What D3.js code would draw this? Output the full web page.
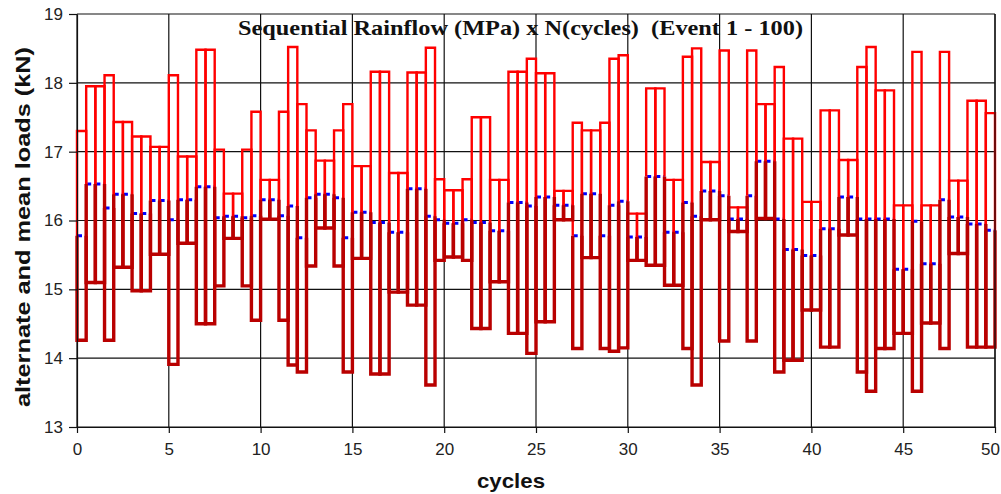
<!DOCTYPE html>
<html>
<head>
<meta charset="utf-8">
<script src="https://cdn.jsdelivr.net/npm/d3@7"></script>
<style>
  html, body { margin: 0; padding: 0; background: #fff; }
  svg { display: block; }
</style>
</head>
<body>
<div id="chart"></div>
<script>
// one entry per event (1 - 100), half a cycle each
const maxLoad = [
  17.30, 17.95, 17.95, 18.11, 17.43, 17.43, 17.22, 17.22, 17.07, 17.07,
  18.11, 16.93, 16.93, 18.48, 18.48, 17.03, 16.39, 16.39, 17.03, 17.58,
  16.59, 16.59, 17.58, 18.52, 17.69, 17.31, 16.87, 16.87, 17.31, 17.69,
  16.79, 16.79, 18.16, 18.16, 16.69, 16.69, 18.15, 18.15, 18.51, 16.60,
  16.44, 16.44, 16.60, 17.50, 17.50, 16.59, 16.59, 18.16, 18.16, 18.35,
  18.14, 18.14, 16.43, 16.43, 17.42, 17.31, 17.31, 17.42, 18.35, 18.40,
  16.10, 16.10, 17.92, 17.92, 16.59, 16.59, 18.38, 18.50, 16.85, 16.85,
  18.47, 16.19, 16.19, 18.47, 17.69, 17.69, 18.23, 17.19, 17.19, 16.27,
  16.27, 17.60, 17.60, 16.88, 16.88, 18.23, 18.52, 17.89, 17.89, 16.22,
  16.22, 18.45, 16.22, 16.22, 18.45, 16.58, 16.58, 17.74, 17.74, 17.56
];
const minLoad = [
  14.26, 15.10, 15.10, 14.26, 15.32, 15.32, 14.98, 14.98, 15.51, 15.51,
  13.91, 15.67, 15.67, 14.50, 14.50, 15.05, 15.74, 15.74, 15.05, 14.55,
  16.02, 16.02, 14.55, 13.90, 13.80, 15.34, 15.89, 15.89, 15.34, 13.80,
  15.45, 15.45, 13.77, 13.77, 14.96, 14.96, 14.77, 14.77, 13.61, 15.42,
  15.47, 15.47, 15.42, 14.43, 14.43, 15.11, 15.11, 14.36, 14.36, 14.07,
  14.53, 14.53, 16.01, 16.01, 14.14, 15.46, 15.46, 14.14, 14.10, 14.15,
  15.42, 15.42, 15.35, 15.35, 15.06, 15.06, 14.14, 13.61, 16.01, 16.01,
  14.25, 15.84, 15.84, 14.25, 16.03, 16.03, 13.80, 13.97, 13.97, 14.70,
  14.70, 14.16, 14.16, 15.79, 15.79, 13.80, 13.52, 14.14, 14.14, 14.36,
  14.36, 13.52, 14.51, 14.51, 14.14, 15.52, 15.52, 14.16, 14.16, 14.16
];
const meanLoad = [
  15.78, 16.53, 16.53, 16.18, 16.38, 16.38, 16.10, 16.10, 16.29, 16.29,
  16.01, 16.30, 16.30, 16.49, 16.49, 16.04, 16.06, 16.06, 16.04, 16.07,
  16.30, 16.30, 16.07, 16.21, 15.75, 16.33, 16.38, 16.38, 16.33, 15.75,
  16.12, 16.12, 15.97, 15.97, 15.83, 15.83, 16.46, 16.46, 16.06, 16.01,
  15.96, 15.96, 16.01, 15.97, 15.97, 15.85, 15.85, 16.26, 16.26, 16.21,
  16.34, 16.34, 16.22, 16.22, 15.78, 16.39, 16.39, 15.78, 16.22, 16.28,
  15.76, 15.76, 16.64, 16.64, 15.83, 15.83, 16.26, 16.06, 16.43, 16.43,
  16.36, 16.02, 16.02, 16.36, 16.86, 16.86, 16.02, 15.58, 15.58, 15.49,
  15.49, 15.88, 15.88, 16.34, 16.34, 16.02, 16.02, 16.02, 16.02, 15.29,
  15.29, 15.99, 15.37, 15.37, 16.30, 16.05, 16.05, 15.95, 15.95, 15.86
];
const xTicks = [0, 5, 10, 15, 20, 25, 30, 35, 40, 45, 50];
const yTicks = [13, 14, 15, 16, 17, 18, 19];
const titleText = "Sequential Rainflow (MPa) x N(cycles)  (Event 1 - 100)";
const xLabel = "cycles";
const yLabel = "alternate and mean loads (kN)";

/* svg setup */
const width = 1001, height = 494;
const margin = { top: 14, right: 6, bottom: 67, left: 77 };

const svg = d3.select("#chart").append("svg")
  .attr("width", width)
  .attr("height", height);

const x = d3.scaleLinear().domain([0, 50]).range([margin.left, width - margin.right]);
const y = d3.scaleLinear().domain([13, 19]).range([height - margin.bottom, margin.top]);
const halfCycle = 0.5;

/* grid */
svg.append("g")
  .selectAll("line")
  .data(yTicks)
  .join("line")
  .attr("x1", x(0)).attr("x2", x(50))
  .attr("y1", d => y(d)).attr("y2", d => y(d))
  .attr("stroke", "#111").attr("stroke-width", 1.2);
svg.append("g")
  .selectAll("line")
  .data(xTicks)
  .join("line")
  .attr("x1", d => x(d)).attr("x2", d => x(d))
  .attr("y1", y(13)).attr("y2", y(19))
  .attr("stroke", "#111").attr("stroke-width", 1.2);

/* title sits inside the plot, over the grid */
svg.append("text")
  .attr("x", 238).attr("y", 35)
  .attr("textLength", 565)
  .attr("lengthAdjust", "spacingAndGlyphs")
  .style("white-space", "pre")
  .attr("font-family", "'Liberation Serif', 'Times New Roman', serif")
  .attr("font-weight", "bold")
  .attr("font-size", 21)
  .attr("fill", "#111")
  .text(titleText);

const events = d3.range(maxLoad.length);
const line = d3.line();

/* mean dashes (blue), drawn under the red boxes */
svg.append("g")
  .selectAll("line")
  .data(events)
  .join("line")
  .attr("x1", i => x(i * halfCycle))
  .attr("x2", i => x((i + 1) * halfCycle))
  .attr("y1", i => y(meanLoad[i]))
  .attr("y2", i => y(meanLoad[i]))
  .attr("stroke", "#0000ff")
  .attr("stroke-width", 3)
  .attr("stroke-dasharray", "4,3")
  .attr("stroke-dashoffset", -1);

/* upper half of each box: mean -> max */
svg.append("g")
  .selectAll("path")
  .data(events)
  .join("path")
  .attr("d", i => line([
    [x(i * halfCycle), y(meanLoad[i])],
    [x(i * halfCycle), y(maxLoad[i])],
    [x((i + 1) * halfCycle), y(maxLoad[i])],
    [x((i + 1) * halfCycle), y(meanLoad[i])]
  ]))
  .attr("fill", "none")
  .attr("stroke", "#ff0000")
  .attr("stroke-width", 2.4);

/* lower half of each box: mean -> min */
svg.append("g")
  .selectAll("path")
  .data(events)
  .join("path")
  .attr("d", i => line([
    [x(i * halfCycle), y(meanLoad[i])],
    [x(i * halfCycle), y(minLoad[i])],
    [x((i + 1) * halfCycle), y(minLoad[i])],
    [x((i + 1) * halfCycle), y(meanLoad[i])]
  ]))
  .attr("fill", "none")
  .attr("stroke", "#b90000")
  .attr("stroke-width", 3.4);

/* axes */
svg.append("g")
  .attr("transform", `translate(${margin.left},0)`)
  .call(d3.axisLeft(y).tickValues(yTicks).tickFormat(d3.format("d")).tickSize(8).tickPadding(6).tickSizeOuter(0))
  .call(g => g.selectAll("line, path").attr("stroke", "#111").attr("stroke-width", 1.2))
  .selectAll("text")
  .attr("font-family", "'Liberation Sans', Arial, sans-serif")
  .attr("font-size", 17)
  .attr("fill", "#222");

svg.append("g")
  .attr("transform", `translate(0,${height - margin.bottom})`)
  .call(d3.axisBottom(x).tickValues(xTicks).tickSize(6).tickPadding(10).tickSizeOuter(0))
  .call(g => g.selectAll("line, path").attr("stroke", "#111").attr("stroke-width", 1.2))
  .selectAll("text")
  .attr("font-family", "'Liberation Sans', Arial, sans-serif")
  .attr("font-size", 17)
  .attr("fill", "#222")
  .attr("dx", d => d === 50 ? "-0.3em" : null);

/* right border */
svg.append("line")
  .attr("x1", x(50)).attr("x2", x(50))
  .attr("y1", y(13)).attr("y2", y(19))
  .attr("stroke", "#111").attr("stroke-width", 1.2);

/* axis titles */
svg.append("text")
  .attr("x", 511).attr("y", 488)
  .attr("text-anchor", "middle")
  .attr("font-family", "'Liberation Sans', Arial, sans-serif")
  .attr("font-weight", "bold")
  .attr("font-size", 21)
  .attr("textLength", 68)
  .attr("lengthAdjust", "spacingAndGlyphs")
  .attr("fill", "#111")
  .text(xLabel);

svg.append("text")
  .attr("transform", "translate(30,227) rotate(-90)")
  .attr("text-anchor", "middle")
  .attr("font-family", "'Liberation Sans', Arial, sans-serif")
  .attr("font-weight", "bold")
  .attr("font-size", 20)
  .attr("textLength", 360)
  .attr("lengthAdjust", "spacingAndGlyphs")
  .attr("fill", "#111")
  .text(yLabel);
</script>
</body>
</html>
